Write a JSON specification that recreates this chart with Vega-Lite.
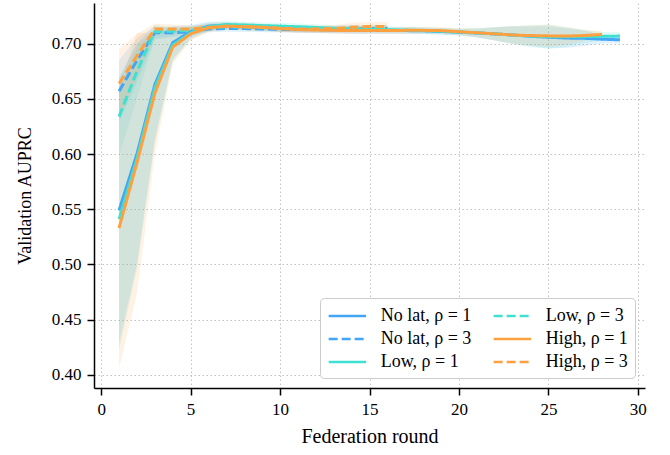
{
  "$schema": "https://vega.github.io/schema/vega-lite/v6.json",
  "width": 551,
  "height": 385,
  "autosize": {"type": "none"},
  "padding": {"left": 94, "top": 3, "right": 25, "bottom": 67},
  "background": "white",
  "config": {
    "view": {"stroke": null},
    "font": "Liberation Serif",
    "axis": {
      "labelFont": "Liberation Serif",
      "titleFont": "Liberation Serif",
      "labelFontSize": 17,
      "titleFontSize": 19,
      "titleFontWeight": "normal",
      "labelColor": "#000000",
      "titleColor": "#000000",
      "domainColor": "#000000",
      "domainWidth": 1.5,
      "tickColor": "#000000",
      "tickWidth": 1.5,
      "tickSize": 7,
      "gridColor": "#bbbbbb",
      "gridWidth": 0.9,
      "gridDash": [1.5, 2.5]
    },
    "legend": {
      "labelFont": "Liberation Serif",
      "labelFontSize": 18,
      "labelColor": "#000000"
    }
  },
  "datasets": {
    "runs": [
      {"s": "No lat, ρ = 1", "r": 1, "m": 0.549, "lo": 0.429, "hi": 0.669},
      {"s": "No lat, ρ = 1", "r": 2, "m": 0.600, "lo": 0.500, "hi": 0.700},
      {"s": "No lat, ρ = 1", "r": 3, "m": 0.663, "lo": 0.613, "hi": 0.713},
      {"s": "No lat, ρ = 1", "r": 4, "m": 0.701, "lo": 0.686, "hi": 0.716},
      {"s": "No lat, ρ = 1", "r": 5, "m": 0.711, "lo": 0.705, "hi": 0.717},
      {"s": "No lat, ρ = 1", "r": 6, "m": 0.716, "lo": 0.712, "hi": 0.720},
      {"s": "No lat, ρ = 1", "r": 7, "m": 0.717, "lo": 0.714, "hi": 0.720},
      {"s": "No lat, ρ = 1", "r": 8, "m": 0.716, "lo": 0.713, "hi": 0.719},
      {"s": "No lat, ρ = 1", "r": 9, "m": 0.715, "lo": 0.712, "hi": 0.718},
      {"s": "No lat, ρ = 1", "r": 10, "m": 0.714, "lo": 0.711, "hi": 0.717},
      {"s": "No lat, ρ = 1", "r": 11, "m": 0.7135, "lo": 0.7105, "hi": 0.7165},
      {"s": "No lat, ρ = 1", "r": 12, "m": 0.713, "lo": 0.710, "hi": 0.716},
      {"s": "No lat, ρ = 1", "r": 13, "m": 0.7125, "lo": 0.7095, "hi": 0.7155},
      {"s": "No lat, ρ = 1", "r": 14, "m": 0.712, "lo": 0.709, "hi": 0.715},
      {"s": "No lat, ρ = 1", "r": 15, "m": 0.712, "lo": 0.709, "hi": 0.715},
      {"s": "No lat, ρ = 1", "r": 16, "m": 0.712, "lo": 0.709, "hi": 0.715},
      {"s": "No lat, ρ = 1", "r": 17, "m": 0.712, "lo": 0.709, "hi": 0.715},
      {"s": "No lat, ρ = 1", "r": 18, "m": 0.7118, "lo": 0.7088, "hi": 0.7148},
      {"s": "No lat, ρ = 1", "r": 19, "m": 0.7112, "lo": 0.7082, "hi": 0.7142},
      {"s": "No lat, ρ = 1", "r": 20, "m": 0.7105, "lo": 0.7075, "hi": 0.7135},
      {"s": "No lat, ρ = 1", "r": 21, "m": 0.7098, "lo": 0.7058, "hi": 0.7138},
      {"s": "No lat, ρ = 1", "r": 22, "m": 0.709, "lo": 0.703, "hi": 0.715},
      {"s": "No lat, ρ = 1", "r": 23, "m": 0.708, "lo": 0.700, "hi": 0.716},
      {"s": "No lat, ρ = 1", "r": 24, "m": 0.7068, "lo": 0.6978, "hi": 0.7158},
      {"s": "No lat, ρ = 1", "r": 25, "m": 0.706, "lo": 0.696, "hi": 0.716},
      {"s": "No lat, ρ = 1", "r": 26, "m": 0.7052, "lo": 0.6962, "hi": 0.7142},
      {"s": "No lat, ρ = 1", "r": 27, "m": 0.705, "lo": 0.698, "hi": 0.712},
      {"s": "No lat, ρ = 1", "r": 28, "m": 0.7042, "lo": 0.7002, "hi": 0.7082},
      {"s": "No lat, ρ = 1", "r": 29, "m": 0.7036, "lo": 0.7006, "hi": 0.7066},

      {"s": "No lat, ρ = 3", "r": 1, "m": 0.657, "lo": 0.629, "hi": 0.685},
      {"s": "No lat, ρ = 3", "r": 2, "m": 0.685, "lo": 0.665, "hi": 0.705},
      {"s": "No lat, ρ = 3", "r": 3, "m": 0.710, "lo": 0.704, "hi": 0.716},
      {"s": "No lat, ρ = 3", "r": 4, "m": 0.710, "lo": 0.706, "hi": 0.714},
      {"s": "No lat, ρ = 3", "r": 5, "m": 0.711, "lo": 0.708, "hi": 0.714},
      {"s": "No lat, ρ = 3", "r": 6, "m": 0.7135, "lo": 0.7105, "hi": 0.7165},
      {"s": "No lat, ρ = 3", "r": 7, "m": 0.714, "lo": 0.711, "hi": 0.717},
      {"s": "No lat, ρ = 3", "r": 8, "m": 0.7138, "lo": 0.7108, "hi": 0.7168},
      {"s": "No lat, ρ = 3", "r": 9, "m": 0.7135, "lo": 0.7105, "hi": 0.7165},
      {"s": "No lat, ρ = 3", "r": 10, "m": 0.7132, "lo": 0.7102, "hi": 0.7162},
      {"s": "No lat, ρ = 3", "r": 11, "m": 0.713, "lo": 0.710, "hi": 0.716},
      {"s": "No lat, ρ = 3", "r": 12, "m": 0.713, "lo": 0.710, "hi": 0.716},
      {"s": "No lat, ρ = 3", "r": 13, "m": 0.7132, "lo": 0.7102, "hi": 0.7162},
      {"s": "No lat, ρ = 3", "r": 14, "m": 0.7135, "lo": 0.7105, "hi": 0.7165},
      {"s": "No lat, ρ = 3", "r": 15, "m": 0.7138, "lo": 0.7108, "hi": 0.7168},
      {"s": "No lat, ρ = 3", "r": 16, "m": 0.714, "lo": 0.711, "hi": 0.717},

      {"s": "Low, ρ = 1", "r": 1, "m": 0.541, "lo": 0.423, "hi": 0.659},
      {"s": "Low, ρ = 1", "r": 2, "m": 0.596, "lo": 0.496, "hi": 0.696},
      {"s": "Low, ρ = 1", "r": 3, "m": 0.660, "lo": 0.610, "hi": 0.710},
      {"s": "Low, ρ = 1", "r": 4, "m": 0.699, "lo": 0.684, "hi": 0.714},
      {"s": "Low, ρ = 1", "r": 5, "m": 0.710, "lo": 0.704, "hi": 0.716},
      {"s": "Low, ρ = 1", "r": 6, "m": 0.7155, "lo": 0.7115, "hi": 0.7195},
      {"s": "Low, ρ = 1", "r": 7, "m": 0.7175, "lo": 0.7145, "hi": 0.7205},
      {"s": "Low, ρ = 1", "r": 8, "m": 0.717, "lo": 0.714, "hi": 0.720},
      {"s": "Low, ρ = 1", "r": 9, "m": 0.7165, "lo": 0.7135, "hi": 0.7195},
      {"s": "Low, ρ = 1", "r": 10, "m": 0.716, "lo": 0.713, "hi": 0.719},
      {"s": "Low, ρ = 1", "r": 11, "m": 0.7155, "lo": 0.7125, "hi": 0.7185},
      {"s": "Low, ρ = 1", "r": 12, "m": 0.7148, "lo": 0.7118, "hi": 0.7178},
      {"s": "Low, ρ = 1", "r": 13, "m": 0.714, "lo": 0.711, "hi": 0.717},
      {"s": "Low, ρ = 1", "r": 14, "m": 0.7135, "lo": 0.7105, "hi": 0.7165},
      {"s": "Low, ρ = 1", "r": 15, "m": 0.713, "lo": 0.710, "hi": 0.716},
      {"s": "Low, ρ = 1", "r": 16, "m": 0.7128, "lo": 0.7098, "hi": 0.7158},
      {"s": "Low, ρ = 1", "r": 17, "m": 0.7125, "lo": 0.7095, "hi": 0.7155},
      {"s": "Low, ρ = 1", "r": 18, "m": 0.712, "lo": 0.709, "hi": 0.715},
      {"s": "Low, ρ = 1", "r": 19, "m": 0.7115, "lo": 0.7085, "hi": 0.7145},
      {"s": "Low, ρ = 1", "r": 20, "m": 0.7108, "lo": 0.7078, "hi": 0.7138},
      {"s": "Low, ρ = 1", "r": 21, "m": 0.710, "lo": 0.706, "hi": 0.714},
      {"s": "Low, ρ = 1", "r": 22, "m": 0.709, "lo": 0.703, "hi": 0.715},
      {"s": "Low, ρ = 1", "r": 23, "m": 0.708, "lo": 0.700, "hi": 0.716},
      {"s": "Low, ρ = 1", "r": 24, "m": 0.707, "lo": 0.697, "hi": 0.717},
      {"s": "Low, ρ = 1", "r": 25, "m": 0.7065, "lo": 0.6955, "hi": 0.7175},
      {"s": "Low, ρ = 1", "r": 26, "m": 0.7063, "lo": 0.6973, "hi": 0.7153},
      {"s": "Low, ρ = 1", "r": 27, "m": 0.7065, "lo": 0.7005, "hi": 0.7125},
      {"s": "Low, ρ = 1", "r": 28, "m": 0.7068, "lo": 0.7028, "hi": 0.7108},
      {"s": "Low, ρ = 1", "r": 29, "m": 0.707, "lo": 0.703, "hi": 0.711},

      {"s": "Low, ρ = 3", "r": 1, "m": 0.634, "lo": 0.599, "hi": 0.669},
      {"s": "Low, ρ = 3", "r": 2, "m": 0.675, "lo": 0.650, "hi": 0.700},
      {"s": "Low, ρ = 3", "r": 3, "m": 0.711, "lo": 0.705, "hi": 0.717},
      {"s": "Low, ρ = 3", "r": 4, "m": 0.7115, "lo": 0.7075, "hi": 0.7155},
      {"s": "Low, ρ = 3", "r": 5, "m": 0.7125, "lo": 0.7095, "hi": 0.7155},
      {"s": "Low, ρ = 3", "r": 6, "m": 0.7145, "lo": 0.7115, "hi": 0.7175},
      {"s": "Low, ρ = 3", "r": 7, "m": 0.7155, "lo": 0.7125, "hi": 0.7185},
      {"s": "Low, ρ = 3", "r": 8, "m": 0.715, "lo": 0.712, "hi": 0.718},
      {"s": "Low, ρ = 3", "r": 9, "m": 0.7145, "lo": 0.7115, "hi": 0.7175},
      {"s": "Low, ρ = 3", "r": 10, "m": 0.714, "lo": 0.711, "hi": 0.717},
      {"s": "Low, ρ = 3", "r": 11, "m": 0.7135, "lo": 0.7105, "hi": 0.7165},
      {"s": "Low, ρ = 3", "r": 12, "m": 0.7132, "lo": 0.7102, "hi": 0.7162},
      {"s": "Low, ρ = 3", "r": 13, "m": 0.7132, "lo": 0.7102, "hi": 0.7162},
      {"s": "Low, ρ = 3", "r": 14, "m": 0.7135, "lo": 0.7105, "hi": 0.7165},
      {"s": "Low, ρ = 3", "r": 15, "m": 0.7138, "lo": 0.7108, "hi": 0.7168},
      {"s": "Low, ρ = 3", "r": 16, "m": 0.714, "lo": 0.711, "hi": 0.717},

      {"s": "High, ρ = 1", "r": 1, "m": 0.533, "lo": 0.406, "hi": 0.660},
      {"s": "High, ρ = 1", "r": 2, "m": 0.592, "lo": 0.474, "hi": 0.710},
      {"s": "High, ρ = 1", "r": 3, "m": 0.655, "lo": 0.600, "hi": 0.710},
      {"s": "High, ρ = 1", "r": 4, "m": 0.697, "lo": 0.682, "hi": 0.712},
      {"s": "High, ρ = 1", "r": 5, "m": 0.709, "lo": 0.703, "hi": 0.715},
      {"s": "High, ρ = 1", "r": 6, "m": 0.7145, "lo": 0.7105, "hi": 0.7185},
      {"s": "High, ρ = 1", "r": 7, "m": 0.716, "lo": 0.713, "hi": 0.719},
      {"s": "High, ρ = 1", "r": 8, "m": 0.7155, "lo": 0.7125, "hi": 0.7185},
      {"s": "High, ρ = 1", "r": 9, "m": 0.715, "lo": 0.712, "hi": 0.718},
      {"s": "High, ρ = 1", "r": 10, "m": 0.7138, "lo": 0.7108, "hi": 0.7168},
      {"s": "High, ρ = 1", "r": 11, "m": 0.713, "lo": 0.710, "hi": 0.716},
      {"s": "High, ρ = 1", "r": 12, "m": 0.7125, "lo": 0.7095, "hi": 0.7155},
      {"s": "High, ρ = 1", "r": 13, "m": 0.7122, "lo": 0.7092, "hi": 0.7152},
      {"s": "High, ρ = 1", "r": 14, "m": 0.712, "lo": 0.709, "hi": 0.715},
      {"s": "High, ρ = 1", "r": 15, "m": 0.712, "lo": 0.709, "hi": 0.715},
      {"s": "High, ρ = 1", "r": 16, "m": 0.712, "lo": 0.709, "hi": 0.715},
      {"s": "High, ρ = 1", "r": 17, "m": 0.7122, "lo": 0.7092, "hi": 0.7152},
      {"s": "High, ρ = 1", "r": 18, "m": 0.7122, "lo": 0.7092, "hi": 0.7152},
      {"s": "High, ρ = 1", "r": 19, "m": 0.712, "lo": 0.709, "hi": 0.715},
      {"s": "High, ρ = 1", "r": 20, "m": 0.711, "lo": 0.708, "hi": 0.714},
      {"s": "High, ρ = 1", "r": 21, "m": 0.710, "lo": 0.706, "hi": 0.714},
      {"s": "High, ρ = 1", "r": 22, "m": 0.709, "lo": 0.703, "hi": 0.715},
      {"s": "High, ρ = 1", "r": 23, "m": 0.708, "lo": 0.700, "hi": 0.716},
      {"s": "High, ρ = 1", "r": 24, "m": 0.7075, "lo": 0.6985, "hi": 0.7165},
      {"s": "High, ρ = 1", "r": 25, "m": 0.7072, "lo": 0.6972, "hi": 0.7172},
      {"s": "High, ρ = 1", "r": 26, "m": 0.707, "lo": 0.699, "hi": 0.715},
      {"s": "High, ρ = 1", "r": 27, "m": 0.7075, "lo": 0.7025, "hi": 0.7125},
      {"s": "High, ρ = 1", "r": 28, "m": 0.7085, "lo": 0.7055, "hi": 0.7115},

      {"s": "High, ρ = 3", "r": 1, "m": 0.664, "lo": 0.633, "hi": 0.695},
      {"s": "High, ρ = 3", "r": 2, "m": 0.689, "lo": 0.669, "hi": 0.709},
      {"s": "High, ρ = 3", "r": 3, "m": 0.7135, "lo": 0.7085, "hi": 0.7185},
      {"s": "High, ρ = 3", "r": 4, "m": 0.7135, "lo": 0.7095, "hi": 0.7175},
      {"s": "High, ρ = 3", "r": 5, "m": 0.7135, "lo": 0.7105, "hi": 0.7165},
      {"s": "High, ρ = 3", "r": 6, "m": 0.7148, "lo": 0.7118, "hi": 0.7178},
      {"s": "High, ρ = 3", "r": 7, "m": 0.716, "lo": 0.713, "hi": 0.719},
      {"s": "High, ρ = 3", "r": 8, "m": 0.7155, "lo": 0.7125, "hi": 0.7185},
      {"s": "High, ρ = 3", "r": 9, "m": 0.715, "lo": 0.712, "hi": 0.718},
      {"s": "High, ρ = 3", "r": 10, "m": 0.714, "lo": 0.711, "hi": 0.717},
      {"s": "High, ρ = 3", "r": 11, "m": 0.7135, "lo": 0.7105, "hi": 0.7165},
      {"s": "High, ρ = 3", "r": 12, "m": 0.7135, "lo": 0.7105, "hi": 0.7165},
      {"s": "High, ρ = 3", "r": 13, "m": 0.7138, "lo": 0.7108, "hi": 0.7168},
      {"s": "High, ρ = 3", "r": 14, "m": 0.715, "lo": 0.711, "hi": 0.719},
      {"s": "High, ρ = 3", "r": 15, "m": 0.7158, "lo": 0.7118, "hi": 0.7198},
      {"s": "High, ρ = 3", "r": 16, "m": 0.7158, "lo": 0.7118, "hi": 0.7198}
    ]
  },
  "data": {"name": "runs"},
  "encoding": {
    "x": {
      "field": "r",
      "type": "quantitative",
      "scale": {"domain": [-0.4, 30.4], "nice": false, "zero": false},
      "axis": {
        "title": "Federation round",
        "titleFontSize": 20,
        "values": [0, 5, 10, 15, 20, 25, 30],
        "format": "d",
        "labelPadding": 6,
        "titlePadding": 9,
        "grid": true
      }
    },
    "color": {
      "field": "s",
      "type": "nominal",
      "title": null,
      "scale": {
        "domain": ["No lat, ρ = 1", "No lat, ρ = 3", "Low, ρ = 1", "Low, ρ = 3", "High, ρ = 1", "High, ρ = 3"],
        "range": ["#42A5F5", "#42A5F5", "#40E0D0", "#40E0D0", "#FFA040", "#FFA040"]
      },
      "legend": {
        "orient": "none",
        "legendX": 226,
        "legendY": 295,
        "columns": 2,
        "direction": "vertical",
        "symbolType": "M-1,0H3",
        "symbolSize": 350,
        "symbolStrokeWidth": 2.5,
        "symbolOpacity": 1,
        "labelOffset": 31.7,
        "columnPadding": 16,
        "rowPadding": 3,
        "padding": 7,
        "fillColor": "white",
        "strokeColor": "#cccccc",
        "cornerRadius": 4
      }
    }
  },
  "layer": [
    {
      "mark": {"type": "area", "opacity": 0.15, "interpolate": "linear"},
      "encoding": {
        "y": {"field": "lo", "type": "quantitative"},
        "y2": {"field": "hi"}
      }
    },
    {
      "mark": {"type": "line", "strokeWidth": 3, "interpolate": "linear"},
      "encoding": {
        "y": {
          "field": "m",
          "type": "quantitative",
          "scale": {"domain": [0.388, 0.737], "nice": false, "zero": false},
          "axis": {
            "title": "Validation AUPRC",
            "titleFontSize": 18,
            "values": [0.4, 0.45, 0.5, 0.55, 0.6, 0.65, 0.7],
            "format": ".2f",
            "labelPadding": 6,
            "titlePadding": 17,
            "grid": true
          }
        },
        "strokeDash": {
          "field": "s",
          "type": "nominal",
          "title": null,
          "scale": {
            "domain": ["No lat, ρ = 1", "No lat, ρ = 3", "Low, ρ = 1", "Low, ρ = 3", "High, ρ = 1", "High, ρ = 3"],
            "range": [[1, 0], [9, 4], [1, 0], [9, 4], [1, 0], [9, 4]]
          },
          "legend": {
            "orient": "none",
            "legendX": 226,
            "legendY": 295,
            "columns": 2,
            "direction": "vertical",
            "symbolType": "M-1,0H3",
            "symbolSize": 350,
            "symbolStrokeWidth": 2.5,
            "symbolOpacity": 1,
            "labelOffset": 31.7,
            "columnPadding": 16,
            "rowPadding": 3,
            "padding": 7,
            "fillColor": "white",
            "strokeColor": "#cccccc",
            "cornerRadius": 4
          }
        }
      }
    }
  ]
}
